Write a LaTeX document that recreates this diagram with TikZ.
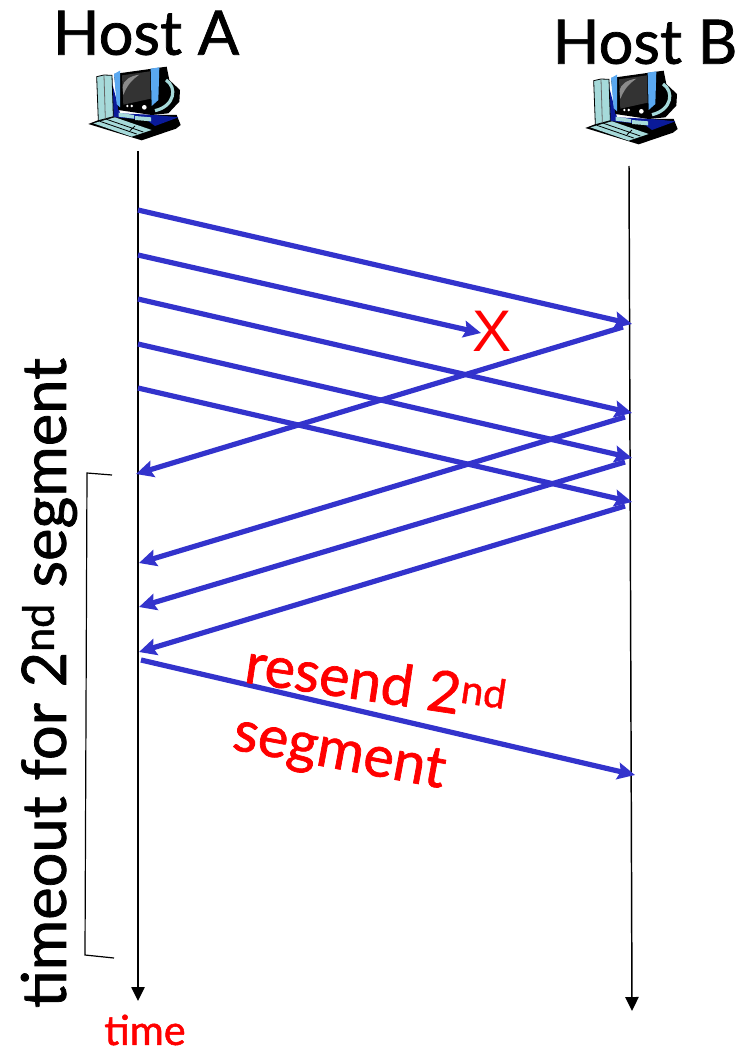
\documentclass[tikz,border=0pt]{standalone}
\usepackage{fontspec}
\setmainfont[FakeBold=1.2]{Lato}
\newfontfamily\crossfont{Liberation Sans}
\usetikzlibrary{arrows.meta}
\definecolor{Segment}{HTML}{3333CC}
\definecolor{Alert}{HTML}{FF0000}
\definecolor{Navy}{HTML}{0A1A99}
\definecolor{Pale}{HTML}{A6DADA}
\definecolor{Bezel}{HTML}{5AA8F0}
\definecolor{Tube}{HTML}{333333}
\definecolor{Shine}{HTML}{8A8A8A}
\tikzset{
  host/.style={font=\fontsize{46}{46}\selectfont,text=black,inner sep=0pt},
  timeout/.style={font=\fontsize{46}{46}\selectfont,text=black,inner sep=0pt,rotate=90},
  resend/.style={font=\fontsize{43}{43}\selectfont,text=Alert,inner sep=0pt},
  timelabel/.style={font=\fontsize{31}{31}\selectfont,text=Alert,inner sep=0pt},
  cross/.style={font=\fontsize{44}{44}\crossfont,text=Alert,inner sep=0pt},
  flow/.style={-{Stealth[length=13pt,width=12.5pt,inset=2pt]},draw=Segment,line width=3.9pt},
  timeline/.style={-{Triangle[length=10.5pt,width=10pt]},draw=black,line width=1.1pt},
  bracketline/.style={draw=black,line width=.9pt},
  computer/.pic={
    \begin{scope}[x=.25pt,y=-.25pt,draw=black,line width=.6pt]
      \fill[black] (145,372) -- (215,345) -- (410,345) -- (422,375) -- (408,386) -- (305,421) -- cycle;
      \fill[Navy] (212,232) -- (240,340) -- (345,345) -- (415,352) -- (345,378) -- (320,360) -- (228,352) -- (212,350) -- cycle;
      \filldraw[fill=Pale] (170,230) -- (192,225) -- (216,226) -- (220,350) -- (175,362) -- cycle;
      \draw[black!60] (192,226) -- (196,356);
      \fill[Pale] (160,370) -- (225,352) -- (335,390) -- (275,410) -- cycle;
      \draw[black] (180,364) -- (290,402) (200,358) -- (310,396) (285,378) -- (270,392);
      \fill[Pale] (236,338) -- (282,345) -- (282,356) -- (236,350) -- cycle;
      \fill[Pale] (285,348) -- (333,352) -- (333,364) -- (285,360) -- cycle;
      \fill[black] (222,222) -- (380,200) -- (388,240) -- (420,270) -- (418,305) -- (385,340) -- (335,345) -- (235,330) -- cycle;
      \draw[Pale,line width=2.4pt] (378,240) .. controls (412,262) and (405,318) .. (345,332);
      \fill[Bezel] (222,222) -- (240,212) -- (240,322) -- (230,312) -- cycle;
      \fill[Bezel] (332,206) -- (358,202) -- (355,300) -- (335,318) -- cycle;
      \fill[Tube] (246,226) -- (330,214) -- (332,296) -- (250,314) -- cycle;
      \fill[Shine] (248,262) .. controls (250,240) and (270,228) .. (298,224) .. controls (275,240) and (262,255) .. (250,285) -- cycle;
      \fill[white] (262,318) circle (4) (275,318) circle (4) (313,322) circle (7);
    \end{scope}
  }
}
\begin{document}
\begin{tikzpicture}[x=.75pt,y=-.75pt]
  \useasboundingbox (0,0) rectangle (740,1052);
  \node[host] (hosta) at (146,33) {Host A};
  \node[host] (hostb) at (645,42) {Host B};
  \pic at (40,0) {computer};
  \pic at (537,4) {computer};

  \coordinate (atop) at (138,151);
  \coordinate (abot) at (138,1001);
  \coordinate (btop) at (629,166);
  \coordinate (bbot) at (632,1011);
  \draw[timeline] (atop) -- (abot);
  \draw[timeline] (btop) -- (bbot);

  \coordinate (k1) at (623,327);
  \coordinate (k3) at (625,417);
  \coordinate (k4) at (625,462);
  \coordinate (k5) at (625,506);
  \coordinate (d1) at (136,474);
  \coordinate (d3) at (139,563);
  \coordinate (d4) at (139,607);
  \coordinate (d5) at (139,652);
  \draw[flow] (k1) -- (d1);
  \draw[flow] (k3) -- (d3);
  \draw[flow] (k4) -- (d4);
  \draw[flow] (k5) -- (d5);

  \coordinate (s1) at (138,210);
  \coordinate (s2) at (138,255);
  \coordinate (s3) at (138,299);
  \coordinate (s4) at (138,344);
  \coordinate (s5) at (138,388);
  \coordinate (r1) at (632,324);
  \coordinate (r3) at (632,413);
  \coordinate (r4) at (632,458);
  \coordinate (r5) at (632,502);
  \node[cross] (lost) at (492,331) {X};
  \coordinate (l2) at (481,333);
  \draw[flow] (s1) -- (r1);
  \draw[flow] (s2) -- (l2);
  \draw[flow] (s3) -- (r3);
  \draw[flow] (s4) -- (r4);
  \draw[flow] (s5) -- (r5);

  \coordinate (s6) at (141,660);
  \coordinate (r6) at (635,775);
  \draw[flow] (s6) -- (r6);
  \node[resend,rotate=-8.5] (again) at (376,681) {resend 2\textsuperscript{nd}};
  \node[resend,rotate=-10.5] (againb) at (339,755) {segment};

  \coordinate (bt) at (112,475);
  \coordinate (btc) at (87,473);
  \coordinate (bbc) at (85,955);
  \coordinate (bb) at (114,958);
  \draw[bracketline] (bt) -- (btc) -- (bbc) -- (bb);
  \node[timeout] (wait) at (49,683) {timeout for 2\textsuperscript{nd} segment};
  \node[timelabel] (timetext) at (145,1030) {time};
\end{tikzpicture}
\end{document}
